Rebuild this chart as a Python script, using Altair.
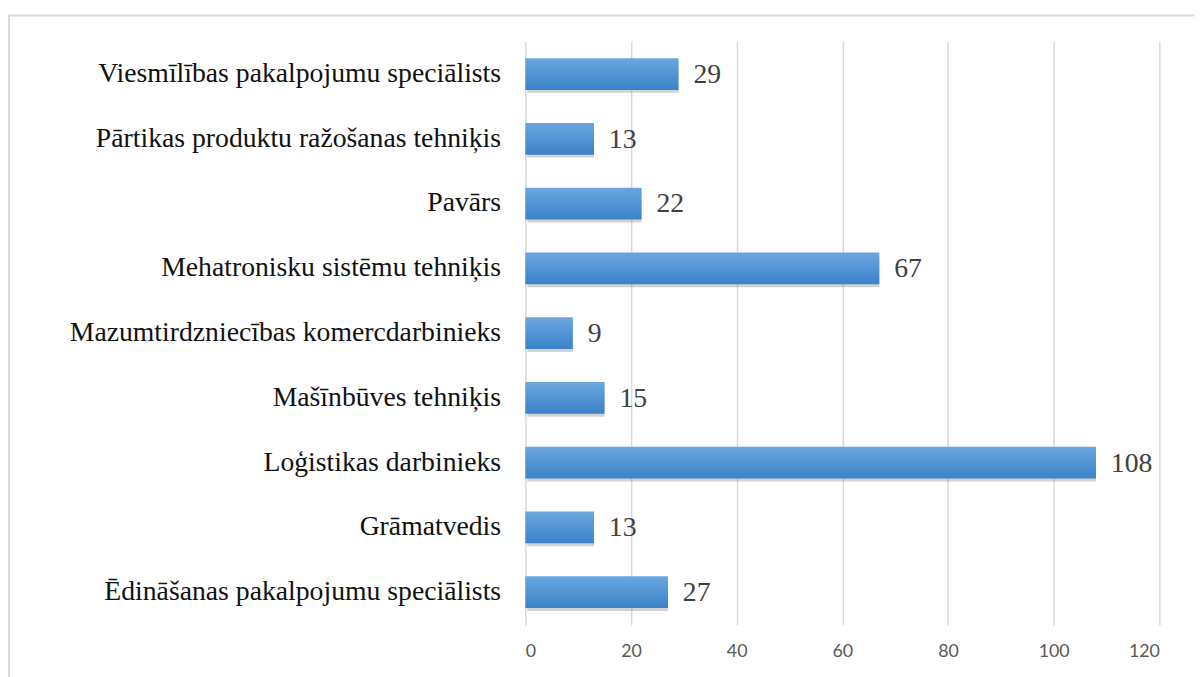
import altair as alt
import pandas as pd

categories = [
    "Viesmīlības pakalpojumu speciālists",
    "Pārtikas produktu ražošanas tehniķis",
    "Pavārs",
    "Mehatronisku sistēmu tehniķis",
    "Mazumtirdzniecības komercdarbinieks",
    "Mašīnbūves tehniķis",
    "Loģistikas darbinieks",
    "Grāmatvedis",
    "Ēdināšanas pakalpojumu speciālists",
]
values = [29, 13, 22, 67, 9, 15, 108, 13, 27]
x_ticks = [0, 20, 40, 60, 80, 100, 120]

df = pd.DataFrame({"cat": categories, "val": values})

W, H = 641, 590

xscale = alt.Scale(domain=[0, 120], nice=False)
yscale = alt.Scale(paddingInner=0.51, paddingOuter=0.26)

xs = alt.X("val:Q", scale=xscale, axis=alt.Axis(values=x_ticks, title=None))
ys = alt.Y("cat:N", sort=categories, scale=yscale, axis=alt.Axis(title=None))

base = alt.Chart(df)

shadow = base.mark_bar(color="#7f7f7f", opacity=0.35, yOffset=3, x2Offset=2).encode(
    x=xs, x2=alt.datum(0), y=ys,
)

bars = base.mark_bar(
    color=alt.Gradient(
        gradient="linear", x1=0, y1=0, x2=0, y2=1,
        stops=[alt.GradientStop(color="#6ba7df", offset=0),
               alt.GradientStop(color="#3b82c9", offset=1)],
    )
).encode(x=alt.X("val:Q"), y=alt.Y("cat:N", sort=categories))

text = base.mark_text(align="left", baseline="middle", dx=15, dy=1, font="Liberation Serif",
                      fontSize=28, color="#404040").encode(
    x="val:Q", y=alt.Y("cat:N", sort=categories), text="val:Q")

frame = alt.Chart(pd.DataFrame({"a": [0]})).mark_rect(
    fill=None, stroke="#d9d9d9", strokeWidth=2).encode(
    x=alt.value(-522), x2=alt.value(W + 40), y=alt.value(-26), y2=alt.value(H + 80))

chart = alt.layer(shadow, bars, text, frame).properties(
    width=W, height=H,
    autosize=alt.AutoSizeParams(type="none"),
    padding={"left": 523, "top": 30, "right": 35, "bottom": 49},
).configure(background="white").configure_view(stroke=None).configure_axisX(
    grid=True, gridColor="#d9d9d9", gridWidth=1.5, domain=False, ticks=False,
    labelFont="Lato", labelFontSize=18, labelColor="#595959", labelPadding=18,
).configure_axisY(
    domain=False, ticks=False, grid=False, labelFont="Liberation Serif",
    labelFontSize=28, labelColor="#111111", labelPadding=25, labelLimit=600,
)

chart.save("out.html", embed_options={"renderer": "svg", "actions": False})
